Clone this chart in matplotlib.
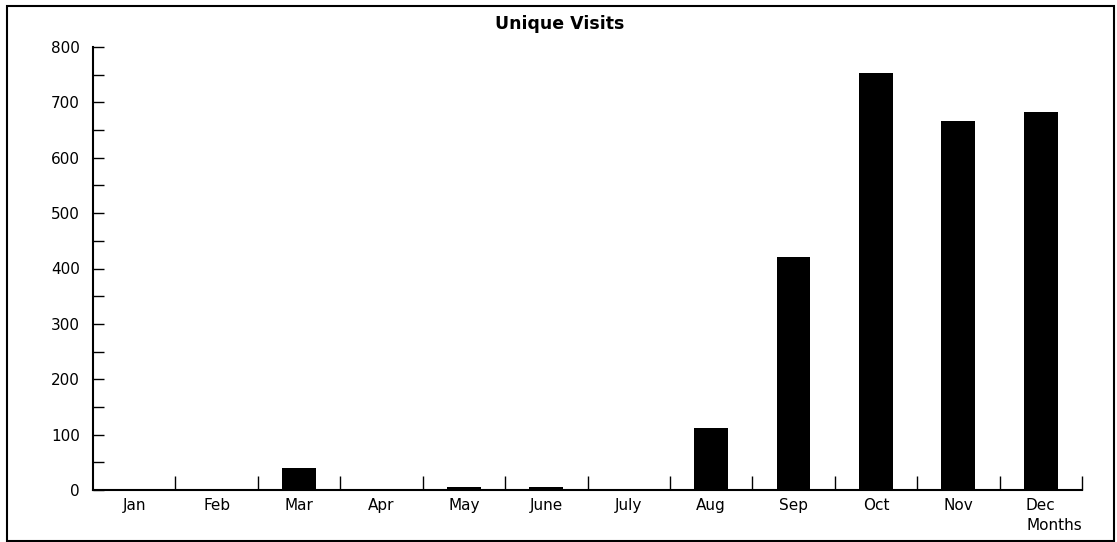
import matplotlib.pyplot as plt
import matplotlib.patches as patches
from matplotlib.ticker import MultipleLocator

# valeurs
months = ["Jan", "Feb", "Mar", "Apr", "May", "June", "July", "Aug", "Sep", "Oct", "Nov", "Dec"]
visits = [0, 0, 40, 0, 5, 5, 0, 112, 420, 753, 666, 682]

W, H = 1117, 542
fig = plt.figure(figsize=(W / 100, H / 100), dpi=100)
ax = fig.add_axes([93 / W, 1 - 490 / H, (1082 - 93) / W, (490 - 47) / H])

x = [i + 0.5 for i in range(len(months))]
ax.bar(x, visits, width=0.41, color="black")

ax.set_xlim(0, len(months))
ax.set_ylim(0, 800)
ax.set_xticks(range(1, len(months) + 1))
ax.set_xticklabels([])
ax.set_xticks(x, minor=True)
ax.set_xticklabels(months, minor=True, fontsize=11)
ax.tick_params(axis="x", which="major", direction="in", length=10, width=1)
ax.tick_params(axis="x", which="minor", length=0, pad=6)

ax.yaxis.set_major_locator(MultipleLocator(100))
ax.yaxis.set_minor_locator(MultipleLocator(50))
ax.tick_params(axis="y", which="both", direction="in", length=8, width=1, labelsize=11, pad=9.5)

for s in ["top", "right"]:
    ax.spines[s].set_visible(False)
for s in ["left", "bottom"]:
    ax.spines[s].set_linewidth(1.5)

fig.text(560 / W, 1 - 24 / H, "Unique Visits", ha="center", va="center",
         fontsize=12.5, fontweight="bold")
fig.text(1082 / W, 1 - 526 / H, "Months", ha="right", va="center", fontsize=11)

# cadre autour de la figure
fig.patches.append(patches.Rectangle((7 / W, 1 - 541 / H), (1114 - 7) / W, (541 - 6) / H,
                                     transform=fig.transFigure, fill=False,
                                     edgecolor="black", linewidth=1.5))

fig.savefig("out.png", dpi=100)
